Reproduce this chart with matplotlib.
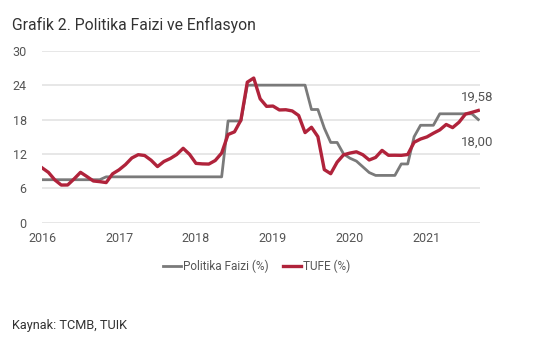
import numpy as np
import matplotlib
matplotlib.use("Agg")
import matplotlib.pyplot as plt

plt.rcParams["font.family"] = ["Roboto", "DejaVu Sans"]

# monthly data, Jan 2016 - Sep 2021
start_year = 2016
policy_rate = [
    7.5, 7.5, 7.5, 7.5, 7.5, 7.5, 7.5, 7.5, 7.5, 7.5, 8.0, 8.0,          # 2016
    8.0, 8.0, 8.0, 8.0, 8.0, 8.0, 8.0, 8.0, 8.0, 8.0, 8.0, 8.0,          # 2017
    8.0, 8.0, 8.0, 8.0, 8.0, 17.75, 17.75, 17.75, 24.0, 24.0, 24.0, 24.0,  # 2018
    24.0, 24.0, 24.0, 24.0, 24.0, 24.0, 19.75, 19.75, 16.5, 14.0, 14.0, 12.0,  # 2019
    11.25, 10.75, 9.75, 8.75, 8.25, 8.25, 8.25, 8.25, 10.25, 10.25, 15.0, 17.0,  # 2020
    17.0, 17.0, 19.0, 19.0, 19.0, 19.0, 19.0, 19.0, 18.0,               # 2021
]
tufe = [
    9.58, 8.78, 7.46, 6.57, 6.58, 7.64, 8.79, 8.05, 7.28, 7.16, 7.00, 8.53,
    9.22, 10.13, 11.29, 11.87, 11.72, 10.90, 9.79, 10.68, 11.20, 11.90, 12.98, 11.92,
    10.35, 10.26, 10.23, 10.85, 12.15, 15.39, 15.85, 17.90, 24.52, 25.24, 21.62, 20.30,
    20.35, 19.67, 19.71, 19.50, 18.71, 15.72, 16.65, 15.01, 9.26, 8.55, 10.56, 11.84,
    12.15, 12.37, 11.86, 10.94, 11.39, 12.62, 11.76, 11.77, 11.75, 11.89, 14.03, 14.60,
    14.97, 15.61, 16.19, 17.14, 16.59, 17.53, 18.95, 19.25, 19.58,
]
years = [2016, 2017, 2018, 2019, 2020, 2021]
yticks = [0, 6, 12, 18, 24, 30]

t = start_year + np.arange(len(tufe)) / 12.0

fig = plt.figure(figsize=(5.55, 3.55), dpi=100)
ax = fig.add_axes([0.0757, 0.3727, 0.7893, 0.4843])

gray = "#7a7a7a"
red = "#b0233b"
ax.plot(t, policy_rate, color=gray, lw=2.0, label="Politika Faizi (%)", zorder=3)
ax.plot(t, tufe, color=red, lw=2.4, label="TUFE (%)", zorder=4)

ax.set_xlim(2016, 2021.69)
ax.set_ylim(0, 30)
ax.set_yticks(yticks)
ax.set_xticks(years)
ax.set_xticklabels([str(y) for y in years])
ax.grid(axis="y", color="#e3e3e3", lw=1.2)
ax.set_axisbelow(True)
for s in ax.spines.values():
    s.set_visible(False)
ax.tick_params(axis="both", length=0, labelsize=9, colors="#555555")
ax.tick_params(axis="y", pad=11)
ax.tick_params(axis="x", pad=7)

ax.annotate("19,58", (t[-1], tufe[-1]), xytext=(-1, 5), textcoords="offset points",
            ha="center", va="bottom", fontsize=9.5, color="#555555")
ax.annotate("18,00", (t[-1], policy_rate[-1]), xytext=(-1, -12), textcoords="offset points",
            ha="center", va="top", fontsize=9.5, color="#555555")

leg = fig.legend(loc="center", bbox_to_anchor=(257 / 555, 1 - 266 / 355), ncol=2,
                 frameon=False, fontsize=8.5, handlelength=1.5, handletextpad=0.2,
                 columnspacing=1.2)
for txt in leg.get_texts():
    txt.set_color("#555555")

fig.text(12 / 555, 1 - 25 / 355, "Grafik 2. Politika Faizi ve Enflasyon",
         fontsize=11.3, color="#333333", va="center", ha="left")
fig.text(12 / 555, 1 - 325 / 355, "Kaynak: TCMB, TUIK",
         fontsize=9.2, color="#333333", va="center", ha="left")

fig.savefig("out.png", dpi=100, facecolor="white")
